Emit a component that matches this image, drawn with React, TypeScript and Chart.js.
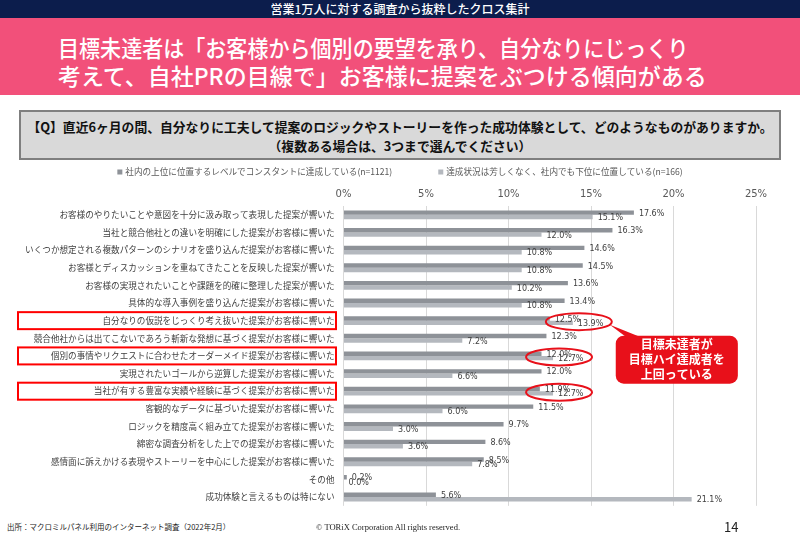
import React, { useEffect, useRef } from "react";
import { Chart, registerables } from "chart.js";

Chart.register(...registerables);

const categories = [
  "お客様のやりたいことや意図を十分に汲み取って表現した提案が響いた",
  "当社と競合他社との違いを明確にした提案がお客様に響いた",
  "いくつか想定される複数パターンのシナリオを盛り込んだ提案がお客様に響いた",
  "お客様とディスカッションを重ねてきたことを反映した提案が響いた",
  "お客様の実現されたいことや課題を的確に整理した提案が響いた",
  "具体的な導入事例を盛り込んだ提案がお客様に響いた",
  "自分なりの仮説をじっくり考え抜いた提案がお客様に響いた",
  "競合他社からは出てこないであろう斬新な発想に基づく提案がお客様に響いた",
  "個別の事情やリクエストに合わせたオーダーメイド提案がお客様に響いた",
  "実現されたいゴールから逆算した提案がお客様に響いた",
  "当社が有する豊富な実績や経験に基づく提案がお客様に響いた",
  "客観的なデータに基づいた提案がお客様に響いた",
  "ロジックを精度高く組み立てた提案がお客様に響いた",
  "綿密な調査分析をした上での提案がお客様に響いた",
  "感情面に訴えかける表現やストーリーを中心にした提案がお客様に響いた",
  "その他",
  "成功体験と言えるものは特にない",
];

const topAchievers = [17.6, 16.3, 14.6, 14.5, 13.6, 13.4, 12.5, 12.3, 12.0, 12.0, 11.9, 11.5, 9.7, 8.6, 8.5, 0.2, 5.6];
const lowAchievers = [15.1, 12.0, 10.8, 10.8, 10.2, 10.8, 13.9, 7.2, 12.7, 6.6, 12.7, 6.0, 3.0, 3.6, 7.8, 0.0, 21.1];

const seriesLabels = [
  "社内の上位に位置するレベルでコンスタントに達成している(n=1121)",
  "達成状況は芳しくなく、社内でも下位に位置している(n=166)",
];
const seriesColors = ["#8e9298", "#b4b8be"];

const xMin = 0;
const xMax = 25;
const xStep = 5;

const highlightRows = [6, 8, 10];
const calloutLines = ["目標未達者が", "目標ハイ達成者を", "上回っている"];

const headerText = "営業1万人に対する調査から抜粋したクロス集計";
const titleLines = [
  "目標未達者は「お客様から個別の要望を承り、自分なりにじっくり",
  "考えて、自社PRの目線で」お客様に提案をぶつける傾向がある",
];
const questionLines = [
  "【Q】直近6ヶ月の間、自分なりに工夫して提案のロジックやストーリーを作った成功体験として、どのようなものがありますか。",
  "（複数ある場合は、3つまで選んでください）",
];
const sourceText = "出所：マクロミルパネル利用のインターネット調査（2022年2月）";
const copyrightText = "© TORiX Corporation All rights reserved.";
const pageNumber = "14";

const JP = '"Noto Sans CJK JP", "Noto Sans", sans-serif';

const decorPlugin = {
  id: "decor",
  afterDraw(chart: any) {
    const ctx = chart.ctx as CanvasRenderingContext2D;
    const xs = chart.scales.x;
    const ys = chart.scales.y;
    ctx.save();

    // data labels
    ctx.font = '8px "DejaVu Sans", sans-serif';
    ctx.fillStyle = "#404040";
    ctx.textBaseline = "middle";
    ctx.textAlign = "left";
    chart.data.datasets.forEach((ds: any, di: number) => {
      const meta = chart.getDatasetMeta(di);
      meta.data.forEach((el: any, i: number) => {
        const v = ds.data[i] as number;
        ctx.fillText(v.toFixed(1) + "%", el.x + 5, el.y + 1);
      });
    });

    // legend
    ctx.font = `8.6px ${JP}`;
    const box = 5;
    const gapBox = 3;
    const gapItems = 46;
    const widths = seriesLabels.map((t) => ctx.measureText(t).width);
    const total = widths.reduce((a, w) => a + box + gapBox + w, 0) + gapItems;
    let lx = chart.width / 2 - total / 2;
    const ly = 12;
    seriesLabels.forEach((t, i) => {
      ctx.fillStyle = seriesColors[i];
      ctx.fillRect(lx, ly - box / 2, box, box);
      ctx.fillStyle = "#595959";
      ctx.fillText(t, lx + box + gapBox, ly);
      lx += box + gapBox + widths[i] + gapItems;
    });

    // red boxes around highlighted labels
    ctx.strokeStyle = "#ff0000";
    ctx.lineWidth = 2;
    highlightRows.forEach((r) => {
      const y = ys.getPixelForValue(r);
      ctx.strokeRect(18, y - 8.5, 318, 17);
    });

    // ellipses around value labels
    ctx.strokeStyle = "#e8101a";
    highlightRows.forEach((r) => {
      const y = ys.getPixelForValue(r) + 1;
      const cx = xs.getPixelForValue(Math.max(topAchievers[r], lowAchievers[r])) + 6;
      ctx.beginPath();
      ctx.ellipse(cx, y, 33, 8.5, 0, 0, Math.PI * 2);
      ctx.stroke();
    });

    // callout
    const bx1 = xs.getPixelForValue(16.5);
    const bx2 = xs.getPixelForValue(23.9);
    const by1 = ys.getPixelForValue(6) + 15;
    const by2 = by1 + 48;
    const e0y = ys.getPixelForValue(highlightRows[0]) + 1;
    const e0x = xs.getPixelForValue(Math.max(topAchievers[6], lowAchievers[6])) + 6 + 32;
    ctx.fillStyle = "#e8101a";
    ctx.beginPath();
    ctx.moveTo(e0x - 1, e0y + 3);
    ctx.lineTo(bx1 + 10, by1 + 1);
    ctx.lineTo(bx1 + 24, by1 + 1);
    ctx.closePath();
    ctx.fill();
    ctx.beginPath();
    ctx.roundRect(bx1, by1, bx2 - bx1, by2 - by1, 8);
    ctx.fill();
    ctx.fillStyle = "#ffffff";
    ctx.font = `bold 12px ${JP}`;
    ctx.textAlign = "center";
    const cxm = (bx1 + bx2) / 2;
    const cym = (by1 + by2) / 2;
    calloutLines.forEach((t, i) => {
      ctx.fillText(t, cxm, cym + (i - 1) * 15);
    });

    ctx.restore();
  },
};

function BarChart() {
  const ref = useRef<HTMLCanvasElement | null>(null);
  useEffect(() => {
    if (!ref.current) return;
    const chart = new Chart(ref.current, {
      type: "bar",
      data: {
        labels: categories,
        datasets: [
          {
            label: seriesLabels[0],
            data: topAchievers,
            backgroundColor: seriesColors[0],
            categoryPercentage: 0.5,
            barPercentage: 1.0,
          },
          {
            label: seriesLabels[1],
            data: lowAchievers,
            backgroundColor: seriesColors[1],
            categoryPercentage: 0.5,
            barPercentage: 1.0,
          },
        ],
      },
      options: {
        indexAxis: "y",
        responsive: false,
        animation: false,
        layout: { padding: { top: 0, right: 44, bottom: 14, left: 0 } },
        plugins: {
          legend: { display: false },
          tooltip: { enabled: false },
          title: { display: false },
        },
        scales: {
          x: {
            position: "top",
            min: xMin,
            max: xMax,
            ticks: {
              stepSize: xStep,
              padding: 6,
              color: "#595959",
              font: { family: '"DejaVu Sans", sans-serif', size: 10 },
              callback: (v: any) => v + "%",
            },
            grid: { color: "#d9d9d9", lineWidth: 1, drawTicks: false },
            border: { display: false },
            afterFit: (s: any) => {
              s.height = 46;
            },
          },
          y: {
            ticks: {
              autoSkip: false,
              padding: 9,
              color: "#404040",
              font: { family: JP, size: 8.6 },
            },
            grid: { display: false, drawTicks: false },
            border: { display: false },
            afterFit: (s: any) => {
              s.width = 343.5;
            },
          },
        },
      },
      plugins: [decorPlugin],
    } as any);
    return () => chart.destroy();
  }, []);
  return (
    <canvas
      ref={ref}
      width={800}
      height={360}
      style={{ position: "absolute", left: 0, top: 160, width: 800, height: 360 }}
    />
  );
}

const titleScales = [0.915, 1.0];

export default function App() {
  return (
    <div
      style={{
        position: "fixed",
        left: 0,
        top: 0,
        width: 800,
        height: 554,
        background: "#ffffff",
        overflow: "hidden",
        fontFamily: JP,
      }}
    >
      <div
        style={{
          position: "absolute",
          left: 0,
          top: 0,
          width: 800,
          height: 18,
          background: "#0c1d4c",
          color: "#fff",
          fontSize: 12,
          lineHeight: "18px",
          textAlign: "center",
          fontWeight: 500,
        }}
      >
        {headerText}
      </div>
      <div
        style={{
          position: "absolute",
          left: 0,
          top: 18,
          width: 800,
          height: 77,
          background: "#f2507a",
        }}
      >
        {titleLines.map((t, i) => (
          <div
            key={i}
            style={{
              position: "absolute",
              left: 58,
              top: 15 + i * 28,
              color: "#fff",
              fontSize: 23,
              lineHeight: "28px",
              whiteSpace: "nowrap",
              fontWeight: 500,
              transform: `scaleX(${titleScales[i]})`,
              transformOrigin: "left center",
            }}
          >
            {t}
          </div>
        ))}
      </div>
      <div
        style={{
          position: "absolute",
          left: 19,
          top: 110,
          width: 762,
          height: 50,
          boxSizing: "border-box",
          border: "2px solid #7f7f7f",
          background: "#d9d9d9",
          paddingTop: 5,
          textAlign: "center",
          fontSize: 12.8,
          fontWeight: 700,
          lineHeight: "19px",
          color: "#111",
          whiteSpace: "nowrap",
        }}
      >
        {questionLines.map((t, i) => (
          <div key={i}>{t}</div>
        ))}
      </div>
      <BarChart />
      <div
        style={{
          position: "absolute",
          left: 7,
          top: 521,
          fontSize: 7.5,
          lineHeight: "12px",
          color: "#222",
          whiteSpace: "nowrap",
        }}
      >
        {sourceText}
      </div>
      <div
        style={{
          position: "absolute",
          left: 316,
          top: 521,
          fontSize: 8.5,
          lineHeight: "12px",
          color: "#222",
          fontFamily: '"Liberation Serif", serif',
          whiteSpace: "nowrap",
        }}
      >
        {copyrightText}
      </div>
      <div
        style={{
          position: "absolute",
          left: 724,
          top: 518,
          fontSize: 13,
          lineHeight: "18px",
          color: "#222",
          whiteSpace: "nowrap",
        }}
      >
        {pageNumber}
      </div>
    </div>
  );
}
